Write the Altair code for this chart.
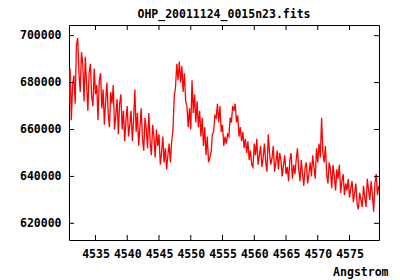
import altair as alt
import pandas as pd

# Spectrum samples (flux in thousands), wavelength grid start/step in Angstrom
wl_start = 4530.8
wl_step = 0.2
flux_k = [
    670, 686, 664, 679, 683, 671, 696, 699, 684, 676,
    693, 688, 672, 691, 679, 668, 684, 688, 674, 670,
    686, 675, 679, 664, 681, 684, 669, 677, 662, 672,
    680, 667, 661, 676, 671, 679, 660, 666, 673, 658,
    671, 675, 660, 668, 655, 664, 670, 657, 662, 668,
    655, 664, 677, 659, 667, 653, 661, 669, 656, 651,
    665, 660, 652, 667, 655, 649, 662, 657, 648, 660,
    653, 658, 645, 650, 657, 646, 652, 643, 649, 654,
    646, 655, 660, 674, 678, 688, 681, 689, 680, 687,
    676, 684, 672, 670, 661, 669, 660, 681, 667, 675,
    663, 672, 661, 668, 657, 665, 653, 661, 649, 657,
    646, 648, 650, 658, 659, 666, 665, 671, 663, 670,
    659, 662, 653, 657, 654, 658, 657, 665, 663, 670,
    668, 671, 663, 666, 657, 661, 655, 659, 652, 656,
    650, 655, 647, 651, 645, 644, 654, 649, 656, 645,
    649, 653, 644, 648, 654, 646, 642, 658, 650, 645,
    648, 653, 642, 646, 651, 643, 650, 647, 640, 645,
    649, 641, 644, 638, 647, 650, 639, 645, 641, 647,
    652, 643, 638, 647, 641, 636, 644, 646, 637, 641,
    646, 640, 649, 644, 639, 652, 646, 654, 648, 665,
    650, 646, 653, 641, 637, 646, 643, 635, 645, 640,
    634, 643, 639, 645, 633, 638, 641, 632, 637, 634,
    639, 631, 635, 638, 629, 633, 637, 628, 626, 633,
    630, 627, 636, 631, 627, 639, 634, 630, 638, 632,
    625, 637, 641, 632, 636,
]
x_ticks = [4535, 4540, 4545, 4550, 4555, 4560, 4565, 4570, 4575]
y_ticks = [620000, 640000, 660000, 680000, 700000]

df = pd.DataFrame({
    "wl": [round(wl_start + wl_step * i, 2) for i in range(len(flux_k))],
    "flux": [v * 1000 for v in flux_k],
})
xt = pd.DataFrame({"t": x_ticks})
yt = pd.DataFrame({"t": y_ticks})

W, H = 310, 215
FONT = "DejaVu Sans Mono"
xs = alt.Scale(domain=[4530.83, 4579.64], nice=False, zero=False)
ys = alt.Scale(domain=[612900, 704550], nice=False, zero=False)
xax = alt.Axis(values=x_ticks, format="d", title="Angstrom",
               titleAlign="right", titleAnchor="end", titleX=319, titleY=35,
               titleBaseline="alphabetic")
yax = alt.Axis(values=y_ticks, format="d", title=None)

line = alt.Chart(df).mark_line(color="#ff0000", strokeWidth=1.3, clip=True).encode(
    x=alt.X("wl:Q", scale=xs, axis=xax),
    y=alt.Y("flux:Q", scale=ys, axis=yax),
)

tk = dict(color="black", strokeWidth=1)
yl = alt.Chart(yt).mark_rule(**tk).encode(y=alt.Y("t:Q", scale=ys, axis=yax), x=alt.value(0), x2=alt.value(5))
yr = alt.Chart(yt).mark_rule(**tk).encode(y=alt.Y("t:Q", scale=ys, axis=yax), x=alt.value(W), x2=alt.value(W - 5))
xb = alt.Chart(xt).mark_rule(**tk).encode(x=alt.X("t:Q", scale=xs, axis=xax), y=alt.value(H), y2=alt.value(H - 5))
xtp = alt.Chart(xt).mark_rule(**tk).encode(x=alt.X("t:Q", scale=xs, axis=xax), y=alt.value(0), y2=alt.value(5))

chart = alt.layer(line, yl, yr, xb, xtp).properties(
    width=W, height=H,
    title=alt.TitleParams("OHP_20011124_0015n23.fits", font=FONT, fontSize=11.5,
                          fontWeight="bold", color="black", anchor="middle", offset=4),
    autosize=alt.AutoSizeParams(type="none"),
    padding={"left": 61, "top": 17, "right": 13, "bottom": 40},
).configure(background="white").configure_view(stroke="black", strokeWidth=1).configure_axis(
    labelOverlap=False, labelBound=False, labelFlush=False, tickSize=0, domain=False, grid=False,
    labelPadding=8, labelFont=FONT, labelFontSize=11.5, labelFontWeight="bold",
    labelColor="black", titleFont=FONT, titleFontSize=11.5, titleFontWeight="bold",
    titleColor="black",
)

chart.save("out.html", embed_options={"renderer": "svg", "actions": False})
